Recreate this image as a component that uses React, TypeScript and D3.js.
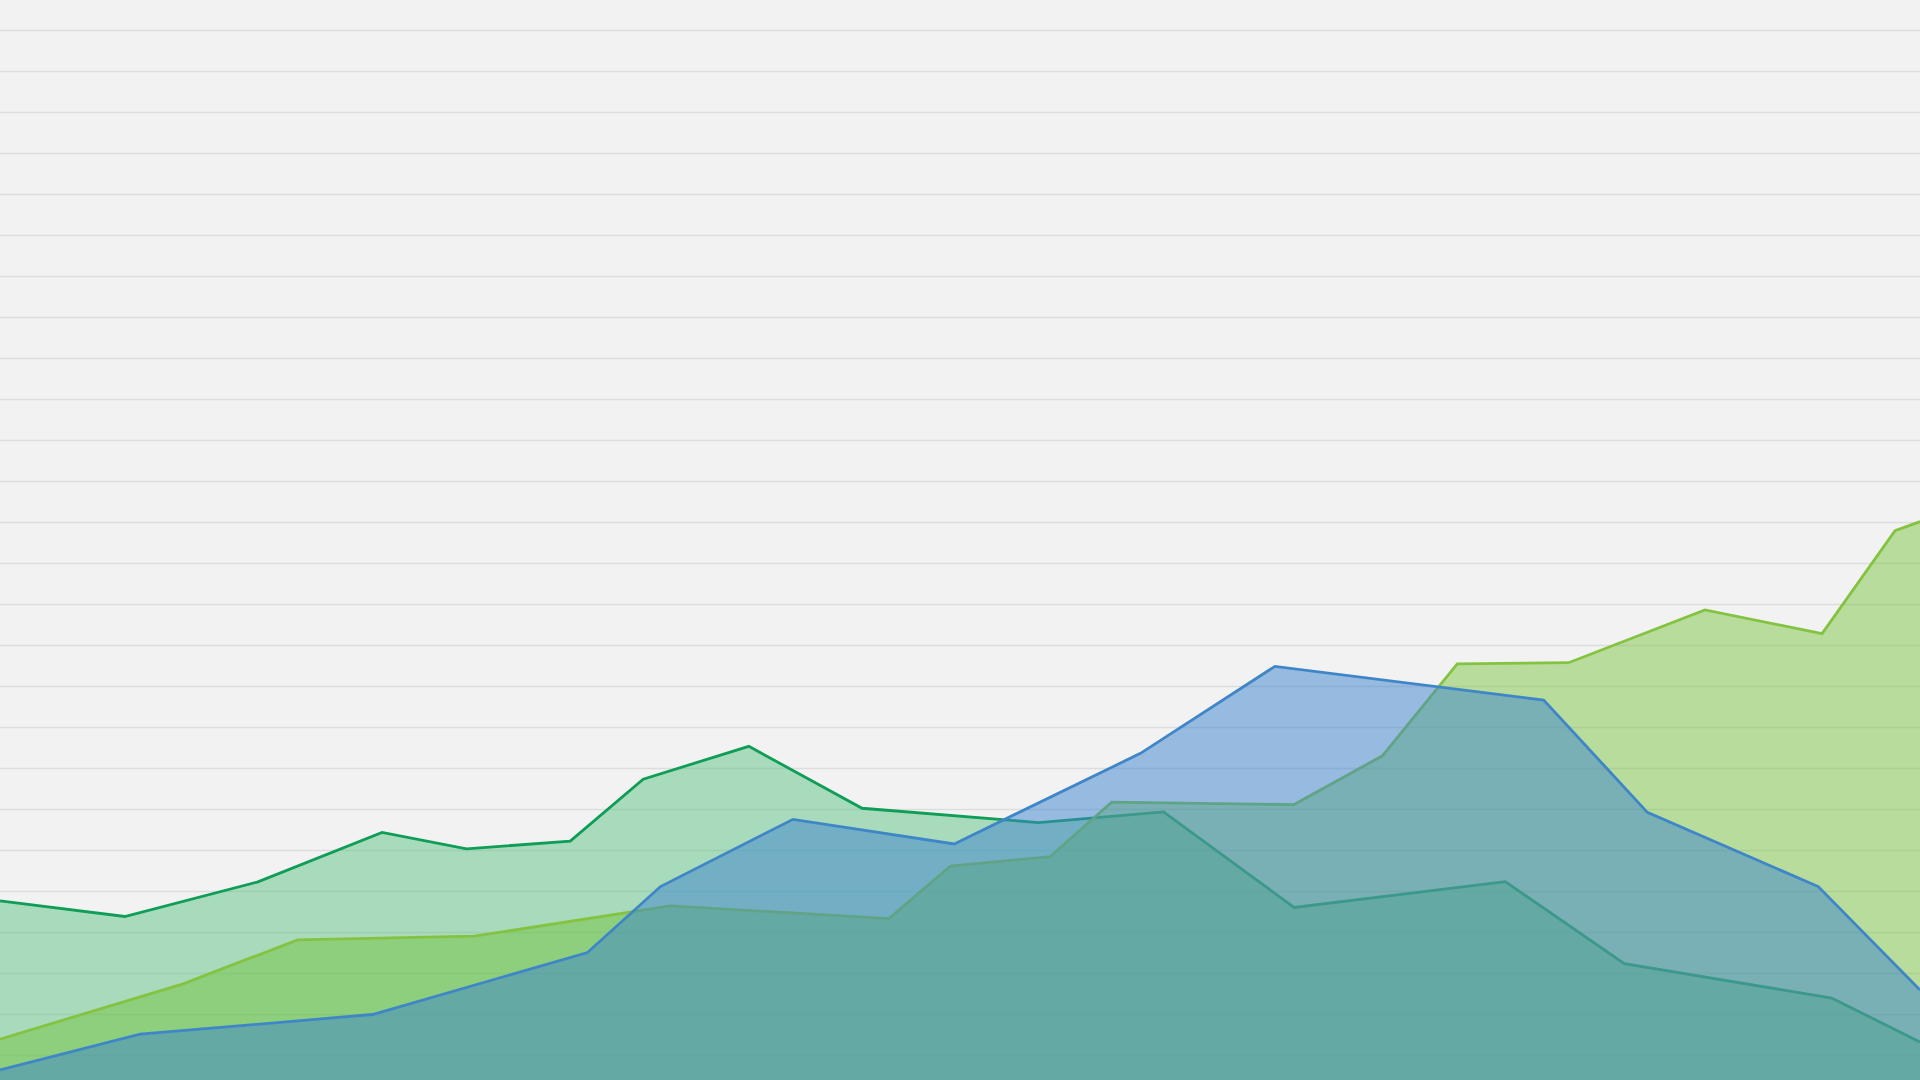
import { useEffect, useRef } from 'react'
import * as d3 from 'd3'

// x in days (0..100), y in units; grid every 10
const seriesAX = [0, 6.5, 13.4, 19.9, 24.3, 29.7, 33.5, 39.0, 44.9, 54.1, 60.6, 67.4, 78.4, 84.6, 95.4, 100]
const seriesAY = [47.7, 43.9, 52.3, 64.4, 60.4, 62.3, 77.4, 85.4, 70.3, 66.8, 69.4, 46.1, 52.4, 32.4, 24.0, 13.3]

const seriesBX = [0, 7.3, 19.4, 30.6, 34.4, 41.3, 49.7, 59.4, 66.4, 80.4, 85.8, 94.7, 100]
const seriesBY = [6.5, 15.2, 20.0, 35.1, 51.2, 67.6, 61.6, 83.7, 104.9, 96.7, 69.3, 51.2, 26.0]

const seriesCX = [0, 9.5, 15.5, 24.7, 34.9, 46.3, 49.5, 54.7, 57.9, 67.4, 72.0, 75.9, 81.7, 88.8, 94.9, 98.7, 100]
const seriesCY = [14.0, 27.4, 38.2, 39.1, 46.5, 43.4, 56.2, 58.5, 71.8, 71.2, 83.1, 105.5, 105.8, 118.7, 112.9, 138.0, 140.2]

// drawing order: A, C, B
const seriesList = [
  { name: 'A', xs: seriesAX, ys: seriesAY, line: '#109d58', fill: '#5ec484', opacity: 0.5 },
  { name: 'C', xs: seriesCX, ys: seriesCY, line: '#84c341', fill: '#6ec232', opacity: 0.45 },
  { name: 'B', xs: seriesBX, ys: seriesBY, line: '#3f86c8', fill: '#3c84ce', opacity: 0.5 },
]

export default function App() {
  const svgRef = useRef<SVGSVGElement>(null)

  useEffect(() => {
    if (!svgRef.current) return
    const svg = d3.select(svgRef.current)
    svg.selectAll('*').remove()

    const width = 1920
    const height = 1080

    const x = d3.scaleLinear().domain([0, 100]).range([0, width])
    const y = d3.scaleLinear().domain([0, 260]).range([1096.5, 30.5])

    svg.append('rect').attr('width', width).attr('height', height).attr('fill', '#f2f2f2')

    // grid
    svg.append('g')
      .selectAll('line')
      .data(d3.range(10, 261, 10))
      .enter()
      .append('line')
      .attr('x1', 0)
      .attr('x2', width)
      .attr('y1', d => y(d))
      .attr('y2', d => y(d))
      .attr('stroke', '#dddddd')
      .attr('stroke-width', 1.5)

    const area = d3.area<[number, number]>()
      .x(d => x(d[0]))
      .y0(y(0))
      .y1(d => y(d[1]))

    const line = d3.line<[number, number]>()
      .x(d => x(d[0]))
      .y(d => y(d[1]))

    seriesList.forEach(s => {
      const pts: [number, number][] = s.xs.map((v, i) => [v, s.ys[i]])
      const g = svg.append('g')
      g.append('path')
        .attr('d', area(pts) as string)
        .attr('fill', s.fill)
        .attr('fill-opacity', s.opacity)
      g.append('path')
        .attr('d', line(pts) as string)
        .attr('fill', 'none')
        .attr('stroke', s.line)
        .attr('stroke-width', 2.8)
        .attr('stroke-linejoin', 'miter')
    })
  }, [])

  return (
    <svg
      ref={svgRef}
      width={1920}
      height={1080}
      style={{ position: 'fixed', top: 0, left: 0, display: 'block' }}
    />
  )
}
